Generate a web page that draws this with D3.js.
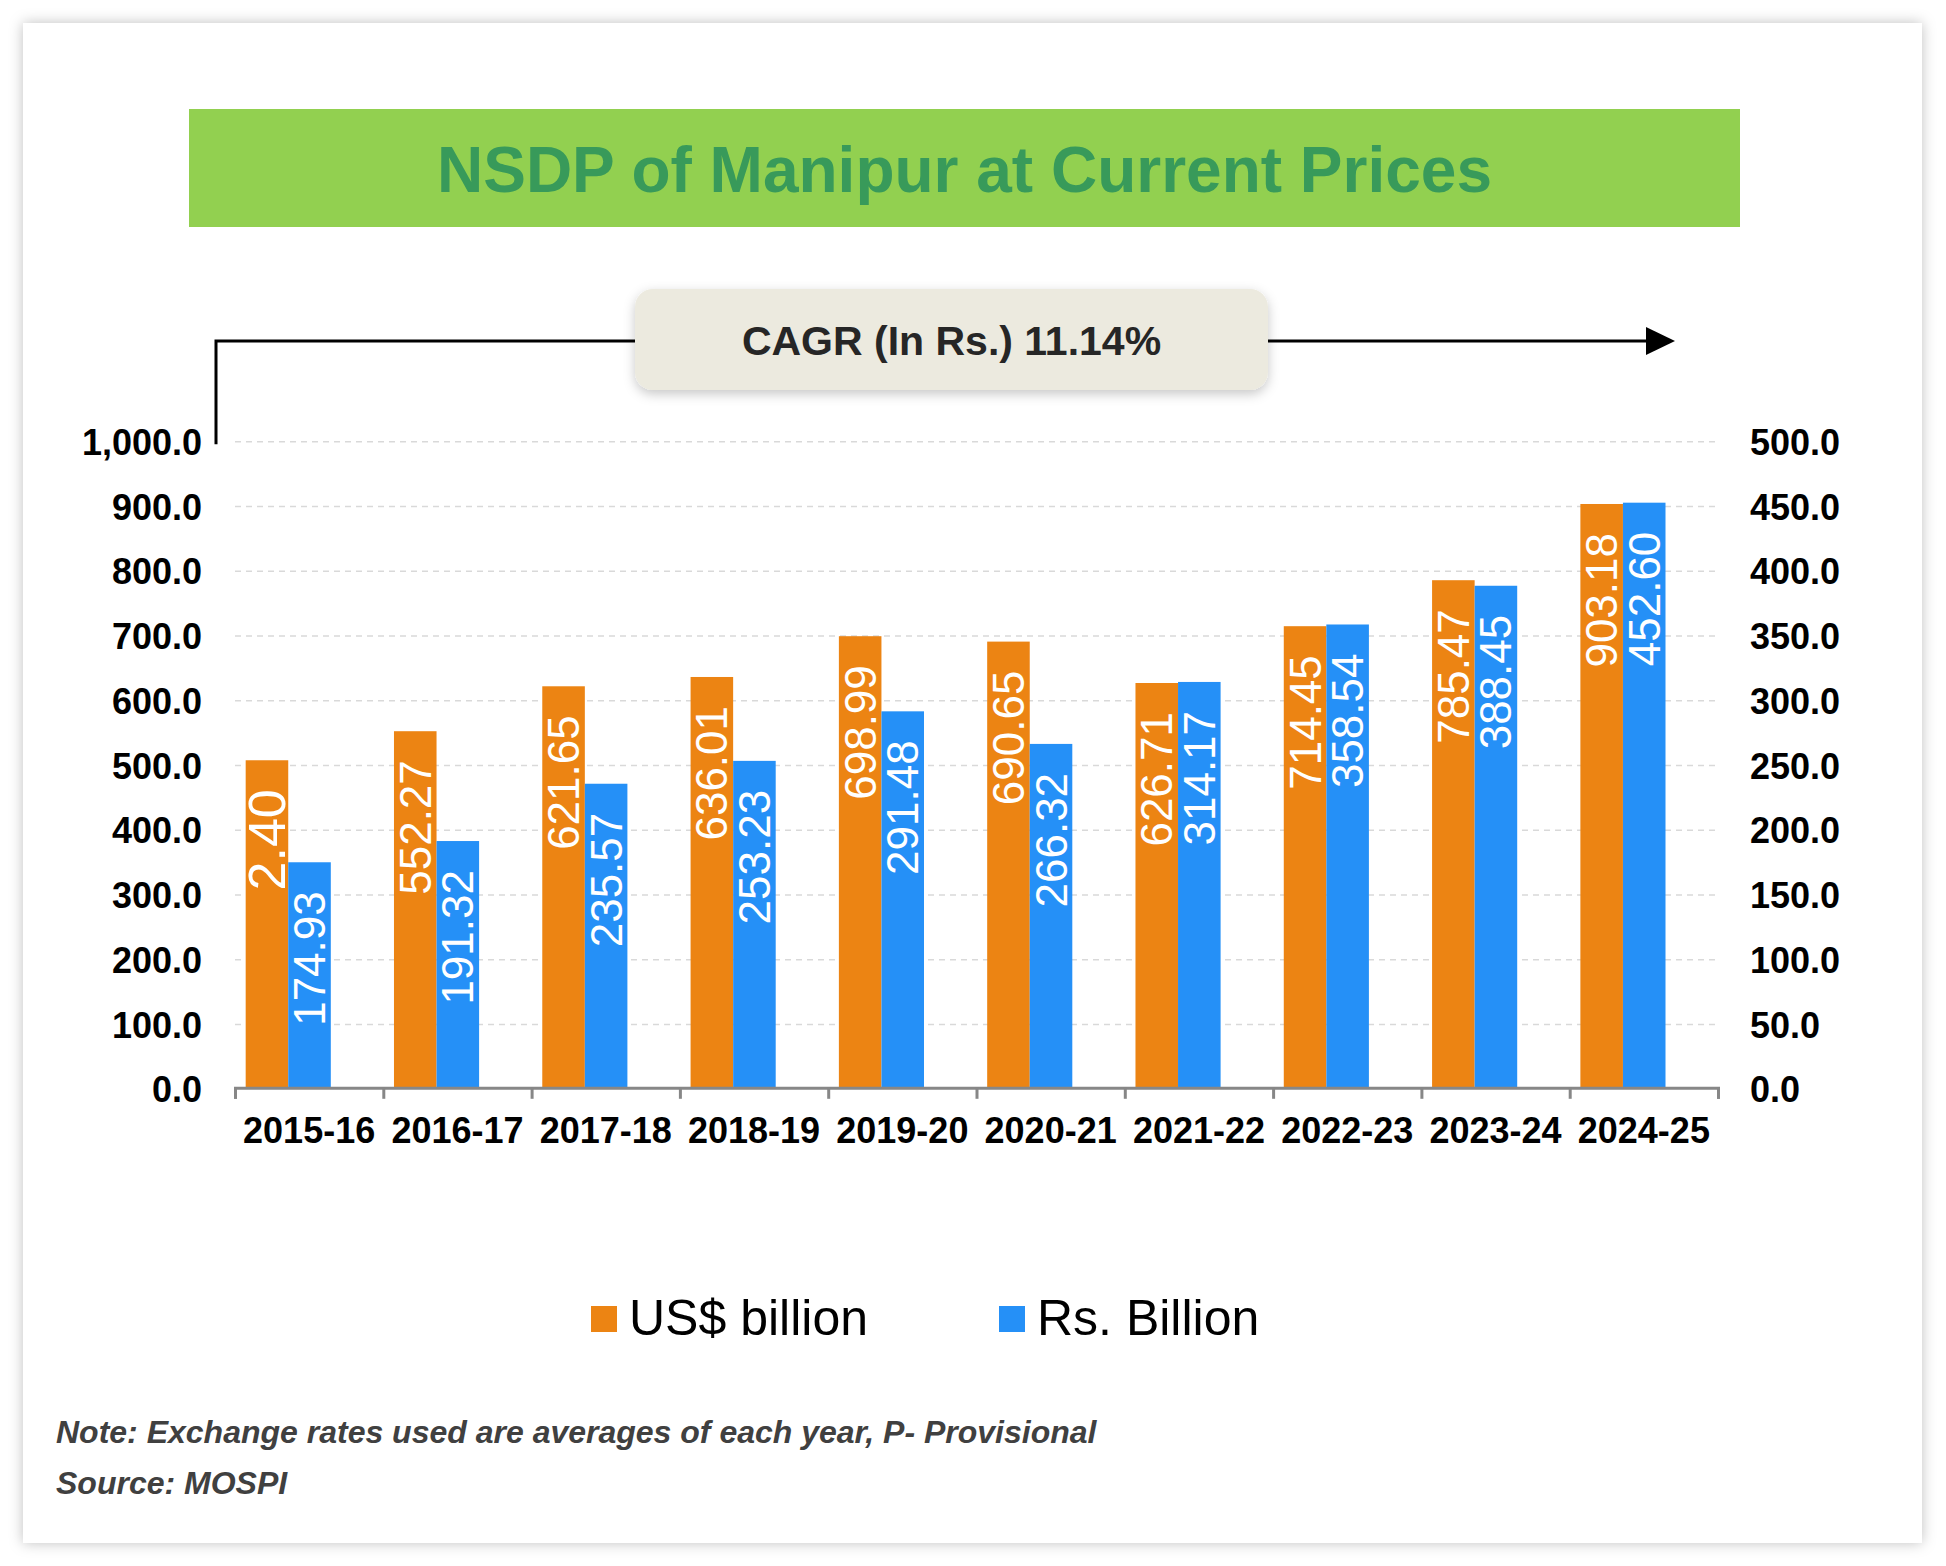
<!DOCTYPE html>
<html>
<head>
<meta charset="utf-8">
<script src="https://cdn.jsdelivr.net/npm/d3@7"></script>
<style>
  html, body { margin: 0; padding: 0; background: #fff; }
  svg { display: block; font-family: "Liberation Sans", Arial, sans-serif; }
</style>
</head>
<body>
<div id="chart"></div>
<script>
// chart data
const years = ["2015-16", "2016-17", "2017-18", "2018-19", "2019-20",
  "2020-21", "2021-22", "2022-23", "2023-24", "2024-25"];
const usdValues = [507.40, 552.27, 621.65, 636.01, 698.99, 690.65, 626.71, 714.45, 785.47, 903.18];
const usdLabels = ["2.40", "552.27", "621.65", "636.01", "698.99", "690.65", "626.71", "714.45", "785.47", "903.18"];
const rsValues = [174.93, 191.32, 235.57, 253.23, 291.48, 266.32, 314.17, 358.54, 388.45, 452.60];
const leftTicks = [0, 100, 200, 300, 400, 500, 600, 700, 800, 900, 1000];
const rightTicks = [0, 50, 100, 150, 200, 250, 300, 350, 400, 450, 500];
const seriesNames = ["US$ billion", "Rs. Billion"];
const titleText = "NSDP of Manipur at Current Prices";
const cagrText = "CAGR (In Rs.) 11.14%";
const noteText = "Note: Exchange rates used are averages of each year, P- Provisional";
const sourceText = "Source: MOSPI";

const W = 1946, H = 1566;
const orange = "#EC8413", blue = "#2590F7";

let svg = d3.select("#chart").append("svg")
    .attr("width", W)
    .attr("height", H);

let defs = svg.append("defs");
let sh = defs.append("filter").attr("id", "shadow")
    .attr("x", "-10%").attr("y", "-10%").attr("width", "120%").attr("height", "130%");
sh.append("feDropShadow").attr("dx", 0).attr("dy", 4).attr("stdDeviation", 6)
    .attr("flood-color", "#000").attr("flood-opacity", 0.22);
let fr = defs.append("filter").attr("id", "frame")
    .attr("x", "-2%").attr("y", "-2%").attr("width", "104%").attr("height", "104%");
fr.append("feDropShadow").attr("dx", 0).attr("dy", 0).attr("stdDeviation", 7)
    .attr("flood-color", "#000").attr("flood-opacity", 0.25);

// outer panel
svg.append("rect")
    .attr("x", 23).attr("y", 23)
    .attr("width", 1899).attr("height", 1520)
    .attr("fill", "#fff")
    .attr("filter", "url(#frame)");

// title banner
svg.append("rect")
    .attr("x", 189).attr("y", 109)
    .attr("width", 1551).attr("height", 118)
    .attr("fill", "#92D050");
svg.append("text")
    .attr("x", 964.5).attr("y", 170)
    .attr("text-anchor", "middle")
    .attr("dominant-baseline", "central")
    .attr("font-size", 64)
    .attr("font-weight", "bold")
    .attr("fill", "#389A5A")
    .text(titleText);

// scales
const x = d3.scaleBand().domain(years).range([235, 1718]);
const xi = d3.scaleLinear().domain([0, years.length]).range([235, 1718]);
const y = d3.scaleLinear().domain([0, 1000]).range([1088.8, 441.3]);
const yR = d3.scaleLinear().domain([0, 500]).range([1088.8, 441.3]);
const bw = x.bandwidth() * 0.287;
const off = x.bandwidth() * 0.072;

// CAGR arrow
svg.append("path")
    .attr("d", `M216,${y(1000) + 3}V341H1648`)
    .attr("fill", "none")
    .attr("stroke", "#000")
    .attr("stroke-width", 3);
svg.append("path")
    .attr("d", "M1646,327L1675,341L1646,355Z")
    .attr("fill", "#000");

// gridlines
let grid = svg.append("g")
    .attr("transform", "translate(235,0)")
    .call(d3.axisLeft(y).tickValues(leftTicks.slice(1)).tickSize(-1481).tickFormat(""));
grid.select(".domain").remove();
grid.selectAll("line")
    .attr("stroke", "#D9D9D9")
    .attr("stroke-width", 1.5)
    .attr("stroke-dasharray", "6,5");

// bars
let bars = svg.append("g");
bars.selectAll(".usd")
    .data(years)
    .join("rect")
    .attr("class", "usd")
    .attr("x", d => x(d) + off)
    .attr("y", (d, i) => y(usdValues[i]))
    .attr("width", bw)
    .attr("height", (d, i) => y(0) - y(usdValues[i]))
    .attr("fill", orange);
bars.selectAll(".rs")
    .data(years)
    .join("rect")
    .attr("class", "rs")
    .attr("x", d => x(d) + off + bw)
    .attr("y", (d, i) => yR(rsValues[i]))
    .attr("width", bw)
    .attr("height", (d, i) => yR(0) - yR(rsValues[i]))
    .attr("fill", blue);

// value labels, rotated inside the bar top
let labels = svg.append("g")
    .attr("fill", "#fff");
labels.selectAll(".usdl")
    .data(years)
    .join("text")
    .attr("class", "usdl")
    .attr("transform", (d, i) => `translate(${x(d) + off + bw / 2},${y(usdValues[i]) + 29}) rotate(-90)`)
    .attr("text-anchor", "end")
    .attr("dominant-baseline", "central")
    .attr("font-size", (d, i) => usdLabels[i].length < 5 ? 52 : 44)
    .text((d, i) => usdLabels[i]);
labels.selectAll(".rsl")
    .data(years)
    .join("text")
    .attr("class", "rsl")
    .attr("transform", (d, i) => `translate(${x(d) + off + bw * 1.5},${yR(rsValues[i]) + 29}) rotate(-90)`)
    .attr("text-anchor", "end")
    .attr("dominant-baseline", "central")
    .attr("font-size", 44)
    .text((d, i) => rsValues[i].toFixed(2));

// left axis
let la = svg.append("g")
    .attr("transform", "translate(202,0)")
    .call(d3.axisLeft(y).tickValues(leftTicks).tickSize(0).tickPadding(0).tickFormat(d3.format(",.1f")));
la.select(".domain").remove();
la.selectAll("text")
    .attr("font-size", 36)
    .attr("font-weight", "bold")
    .attr("font-family", "Liberation Sans, Arial, sans-serif")
    .attr("fill", "#000")
    .attr("dy", "0.36em");

// right axis
let ra = svg.append("g")
    .attr("transform", "translate(1750,0)")
    .call(d3.axisRight(yR).tickValues(rightTicks).tickSize(0).tickPadding(0).tickFormat(d3.format(",.1f")));
ra.select(".domain").remove();
ra.selectAll("text")
    .attr("font-size", 36)
    .attr("font-weight", "bold")
    .attr("font-family", "Liberation Sans, Arial, sans-serif")
    .attr("fill", "#000")
    .attr("dy", "0.36em");

// x axis line with boundary ticks
let xa = svg.append("g")
    .attr("transform", `translate(0,${y(0) - 1})`)
    .call(d3.axisBottom(xi).ticks(years.length).tickSize(11).tickSizeOuter(11).tickFormat(""));
xa.selectAll("path, line")
    .attr("stroke", "#878787")
    .attr("stroke-width", 3);

// category labels
svg.append("g")
    .selectAll("text")
    .data(years)
    .join("text")
    .attr("x", d => x(d) + x.bandwidth() / 2)
    .attr("y", 1143)
    .attr("text-anchor", "middle")
    .attr("font-size", 36)
    .attr("font-weight", "bold")
    .attr("fill", "#000")
    .text(d => d);

// CAGR box
svg.append("rect")
    .attr("x", 635).attr("y", 289)
    .attr("width", 633).attr("height", 101)
    .attr("rx", 18)
    .attr("fill", "#ECEADF")
    .attr("filter", "url(#shadow)");
svg.append("text")
    .attr("x", 951.5).attr("y", 341)
    .attr("text-anchor", "middle")
    .attr("dominant-baseline", "central")
    .attr("font-size", 41)
    .attr("font-weight", "bold")
    .attr("fill", "#262626")
    .text(cagrText);

// legend
const legendX = [591, 999];
const legendColors = [orange, blue];
let lg = svg.append("g");
lg.selectAll("rect")
    .data(seriesNames)
    .join("rect")
    .attr("x", (d, i) => legendX[i])
    .attr("y", 1306)
    .attr("width", 26).attr("height", 26)
    .attr("fill", (d, i) => legendColors[i]);
lg.selectAll("text")
    .data(seriesNames)
    .join("text")
    .attr("x", (d, i) => legendX[i] + 38)
    .attr("y", 1335)
    .attr("font-size", 50)
    .attr("fill", "#000")
    .text(d => d);

// notes
svg.append("text")
    .attr("x", 56).attr("y", 1443)
    .attr("font-size", 32)
    .attr("font-weight", "bold")
    .attr("font-style", "italic")
    .attr("fill", "#404040")
    .text(noteText);
svg.append("text")
    .attr("x", 56).attr("y", 1494)
    .attr("font-size", 32)
    .attr("font-weight", "bold")
    .attr("font-style", "italic")
    .attr("fill", "#404040")
    .text(sourceText);
</script>
</body>
</html>
